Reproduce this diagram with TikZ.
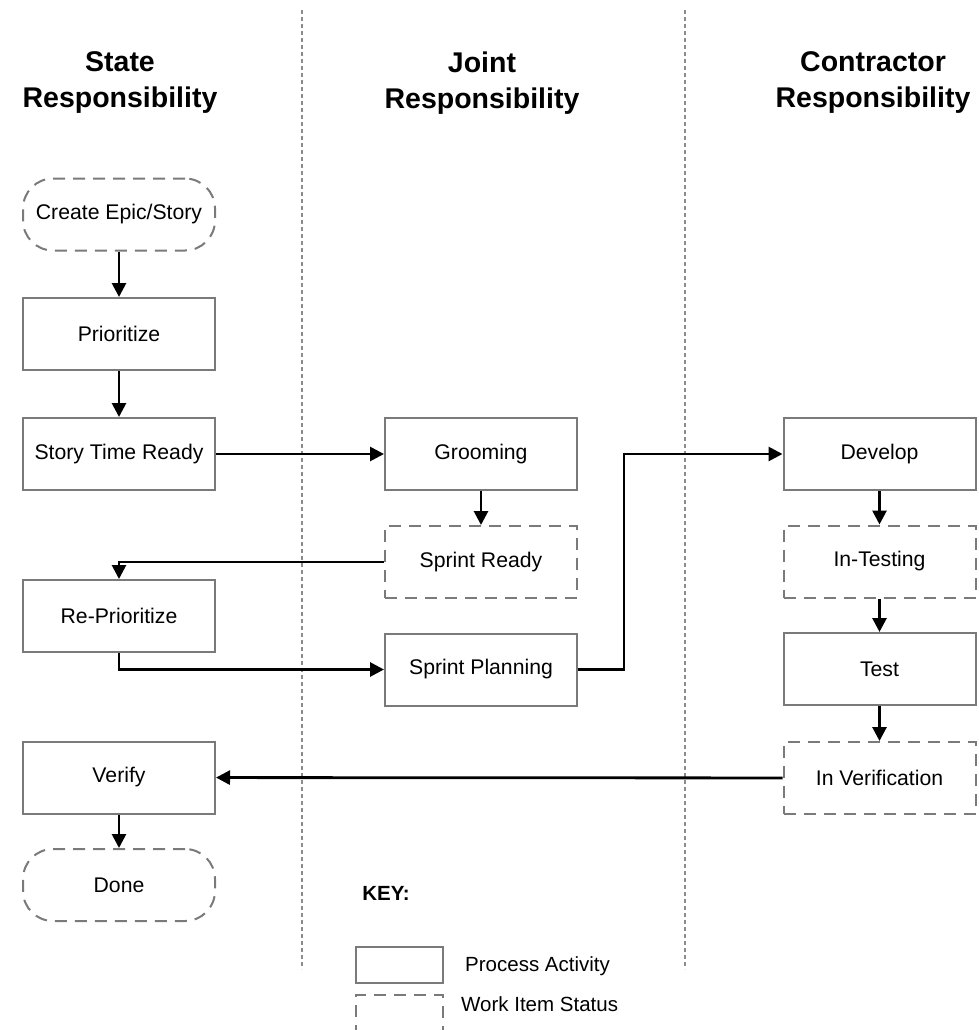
\documentclass[tikz,border=0pt]{standalone}
\usepackage{fontspec}
\setsansfont{Liberation Sans}
\usepackage{xcolor}
\definecolor{edge}{RGB}{122,122,122}
\definecolor{divider}{RGB}{140,140,140}
\usetikzlibrary{positioning, arrows.meta}

\begin{document}
\begin{tikzpicture}[x=1pt, y=-1pt,
  activity/.style={rectangle, draw=edge, line width=2pt, minimum width=192pt,
                   minimum height=72pt, inner sep=0pt, align=center,
                   font=\sffamily\fontsize{21.2}{25}\selectfont},
  status/.style={activity, dash pattern=on 12pt off 8pt},
  terminal/.style={status, rounded corners=30pt},
  keybox/.style={rectangle, draw=edge, line width=2pt, minimum width=87pt,
                 minimum height=36pt, inner sep=0pt},
  keytext/.style={anchor=west, inner sep=0pt, font=\sffamily\fontsize{20.5}{24}\selectfont},
  heading/.style={align=center, font=\sffamily\bfseries\fontsize{28.5}{36}\selectfont},
  flow/.style={-{Triangle[length=14pt, width=14pt]}, line width=2.8pt, black},
  lane/.style={draw=divider, line width=2.6pt, dash pattern=on 4pt off 3pt},
]
  \useasboundingbox (0,0) rectangle (978,1030);

  % Swim lane dividers
  \draw[lane] (302,10) -- (302,969);
  \draw[lane] (685,10) -- (685,969);

  % Lane headings
  \node[heading] (hstate) at (120,83) {State\\Responsibility};
  \node[heading] (hjoint) at (482,83) {Joint\\Responsibility};
  \node[heading] (hcontr) at (873,83) {Contractor\\Responsibility};

  % State lane
  \node[terminal] (create) at (119,214.5) {Create Epic/Story};
  \node[activity] (prio) at (119,334) {Prioritize};
  \node[activity] (story) at (119,454) {Story Time Ready};
  \node[activity] (reprio) at (119,616) {Re-Prioritize};
  \node[activity] (verify) at (119,777.5) {Verify};
  \node[terminal] (done) at (119,885) {Done};

  % Joint lane
  \node[activity] (groom) at (481,454) {Grooming};
  \node[status] (sready) at (481,562) {Sprint Ready};
  \node[activity] (splan) at (481,669.5) {Sprint Planning};

  % Contractor lane
  \node[activity] (develop) at (879.5,454) {Develop};
  \node[status] (intest) at (879.5,561.5) {In-Testing};
  \node[activity] (test) at (879.5,669) {Test};
  \node[status] (inverif) at (879.5,778) {In Verification};

  % Flow
  \foreach \a/\b in {create/prio, prio/story, groom/sready, develop/intest,
                     intest/test, test/inverif, verify/done} {
    \draw[flow] (\a) -- (\b);
  }
  \draw[flow] (story) -- (groom);
  \draw[flow] (sready.west) -| (reprio.north);
  \draw[flow] (reprio.south) |- (splan.west);
  \draw[flow] (splan.east) -- ++(46,0) |- (develop.west);
  \draw[flow] (inverif) -- (verify);

  % Key
  \node[font=\sffamily\bfseries\fontsize{20.5}{24}\selectfont] (keyhead) at (386,893) {KEY:};
  \node[keybox] (keyproc) at (399.5,965) {};
  \node[keybox, dash pattern=on 12pt off 8pt] (keywork) at (399.5,1013) {};
  \node[keytext] (keyproctext) at (465,966) {Process Activity};
  \node[keytext] (keyworktext) at (461,1004) {Work Item Status};
\end{tikzpicture}
\end{document}
